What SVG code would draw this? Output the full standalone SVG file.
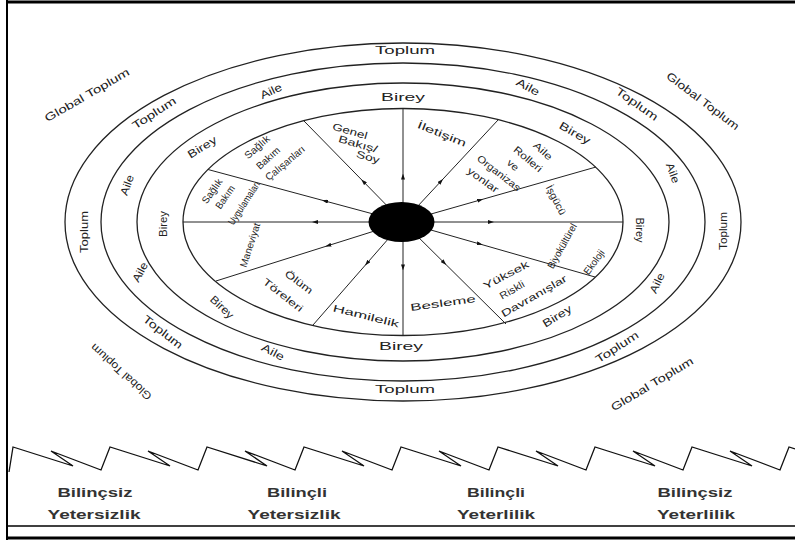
<svg xmlns="http://www.w3.org/2000/svg" width="795" height="540" viewBox="0 0 795 540">
<defs>
<marker id="arr" markerUnits="userSpaceOnUse" markerWidth="6" markerHeight="4" viewBox="0 0 6 4" refX="3" refY="2" orient="auto"><path d="M0,0 L6,2 L0,4 z" fill="#111"/></marker>
<style>
.ring{fill:none;stroke:#222;stroke-width:1.3}
.spoke{fill:none;stroke:#222;stroke-width:1;marker-mid:url(#arr)}
.t{font-family:"Liberation Sans",Arial,sans-serif;font-size:11px;fill:#222;text-anchor:middle}
.s{font-size:10px}
.b{font-weight:bold;font-size:12.5px;fill:#333}
.frame{stroke:#000;fill:none}
</style>
</defs>
<rect width="795" height="540" fill="#fff"/>
<g id="frame">
<line class="frame" x1="6" y1="2" x2="795" y2="2" stroke-width="3"/>
<line class="frame" x1="7" y1="0" x2="7" y2="540" stroke-width="2"/>
<line class="frame" x1="7" y1="526" x2="795" y2="526" stroke-width="1.5" stroke="#555"/>
<line class="frame" x1="6" y1="538" x2="795" y2="538" stroke-width="3"/>
</g>
<g id="rings">
<ellipse class="ring" cx="403" cy="222" rx="338" ry="179"/>
<ellipse class="ring" cx="403" cy="222" rx="302" ry="159"/>
<ellipse class="ring" cx="403" cy="222" rx="266" ry="139"/>
<ellipse class="ring" cx="403" cy="222" rx="220" ry="113.5"/>
</g>
<g id="connectors">
<polyline class="spoke" points="403,222 403,176.6 403,108.5"/>
<polyline class="spoke" points="403,222 441,181.2 498,120"/>
<polyline class="spoke" points="403,222 480.2,200 596,167"/>
<polyline class="spoke" points="403,222 491,222 623,222"/>
<polyline class="spoke" points="403,222 479.8,244 595,277"/>
<polyline class="spoke" points="403,222 444.2,262.8 506,324"/>
<polyline class="spoke" points="403,222 403,267.4 403,335.5"/>
<polyline class="spoke" points="403,222 367,263.2 313,325"/>
<polyline class="spoke" points="403,222 328.2,245.6 216,281"/>
<polyline class="spoke" points="403,222 315,222 183,222"/>
<polyline class="spoke" points="403,222 325,201 208,169.5"/>
<polyline class="spoke" points="403,222 363.4,181.6 304,121"/>
</g>
<g id="center"><ellipse cx="401.5" cy="222" rx="33" ry="20" fill="#000"/></g>
<g id="global-toplum" class="t">
<text transform="translate(87,95) rotate(-30)" dy="0.35em" textLength="96" lengthAdjust="spacingAndGlyphs">Global Toplum</text>
<text transform="translate(703,101) rotate(37)" dy="0.35em" textLength="88" lengthAdjust="spacingAndGlyphs">Global Toplum</text>
<text transform="translate(121,372) rotate(-138)" dy="0.35em" textLength="78" lengthAdjust="spacingAndGlyphs">Global Toplum</text>
<text transform="translate(652,384) rotate(-31)" dy="0.35em" textLength="94" lengthAdjust="spacingAndGlyphs">Global Toplum</text>
</g>
<g id="ring-toplum" class="t">
<text transform="translate(405,50)" dy="0.35em" textLength="60" lengthAdjust="spacingAndGlyphs">Toplum</text>
<text transform="translate(405,389)" dy="0.35em" textLength="60" lengthAdjust="spacingAndGlyphs">Toplum</text>
<text transform="translate(84,232) rotate(-90)" dy="0.35em" textLength="42" lengthAdjust="spacingAndGlyphs">Toplum</text>
<text transform="translate(723,231) rotate(-90)" dy="0.35em" textLength="38" lengthAdjust="spacingAndGlyphs">Toplum</text>
<text transform="translate(154,113) rotate(-33)" dy="0.35em" textLength="50" lengthAdjust="spacingAndGlyphs">Toplum</text>
<text transform="translate(637,104) rotate(35)" dy="0.35em" textLength="49" lengthAdjust="spacingAndGlyphs">Toplum</text>
<text transform="translate(163,332) rotate(38)" dy="0.35em" textLength="47" lengthAdjust="spacingAndGlyphs">Toplum</text>
<text transform="translate(617,347) rotate(-33)" dy="0.35em" textLength="49" lengthAdjust="spacingAndGlyphs">Toplum</text>
</g>
<g id="ring-aile" class="t">
<text transform="translate(271,91) rotate(-25)" dy="0.35em" textLength="23" lengthAdjust="spacingAndGlyphs">Aile</text>
<text transform="translate(528,87) rotate(28)" dy="0.35em" textLength="25" lengthAdjust="spacingAndGlyphs">Aile</text>
<text transform="translate(127,185) rotate(-70)" dy="0.35em" textLength="21" lengthAdjust="spacingAndGlyphs">Aile</text>
<text transform="translate(140,272) rotate(-62)" dy="0.35em" textLength="21" lengthAdjust="spacingAndGlyphs">Aile</text>
<text transform="translate(673,173) rotate(70)" dy="0.35em" textLength="21" lengthAdjust="spacingAndGlyphs">Aile</text>
<text transform="translate(657,283) rotate(-65)" dy="0.35em" textLength="21" lengthAdjust="spacingAndGlyphs">Aile</text>
<text transform="translate(273,352) rotate(28)" dy="0.35em" textLength="24" lengthAdjust="spacingAndGlyphs">Aile</text>
</g>
<g id="ring-birey" class="t">
<text transform="translate(403,97)" dy="0.35em" textLength="44" lengthAdjust="spacingAndGlyphs">Birey</text>
<text transform="translate(401,346)" dy="0.35em" textLength="44" lengthAdjust="spacingAndGlyphs">Birey</text>
<text transform="translate(202,147) rotate(-32)" dy="0.35em" textLength="32" lengthAdjust="spacingAndGlyphs">Birey</text>
<text transform="translate(575,133) rotate(30)" dy="0.35em" textLength="34" lengthAdjust="spacingAndGlyphs">Birey</text>
<text transform="translate(163,224) rotate(-90)" dy="0.35em" textLength="26" lengthAdjust="spacingAndGlyphs">Birey</text>
<text transform="translate(640,230) rotate(90)" dy="0.35em" textLength="25" lengthAdjust="spacingAndGlyphs">Birey</text>
<text transform="translate(222,307) rotate(43)" dy="0.35em" textLength="28" lengthAdjust="spacingAndGlyphs">Birey</text>
<text transform="translate(557,316) rotate(-32)" dy="0.35em" textLength="32" lengthAdjust="spacingAndGlyphs">Birey</text>
</g>
<g id="sec-genel" class="t s">
<text transform="translate(350,131) rotate(16)" dy="0.35em" textLength="36" lengthAdjust="spacingAndGlyphs">Genel</text>
<text transform="translate(358,144) rotate(16)" dy="0.35em" textLength="40" lengthAdjust="spacingAndGlyphs">Bakış/</text>
<text transform="translate(368,157) rotate(16)" dy="0.35em" textLength="24" lengthAdjust="spacingAndGlyphs">Soy</text>
</g>
<g id="sec-iletisim" class="t s">
<text transform="translate(442,134) rotate(22)" dy="0.35em" textLength="52" lengthAdjust="spacingAndGlyphs">İletişim</text>
</g>
<g id="sec-aile-rolleri" class="t s">
<text transform="translate(543,151) rotate(42)" dy="0.35em" textLength="22" lengthAdjust="spacingAndGlyphs">Aile</text>
<text transform="translate(528,159) rotate(40)" dy="0.35em" textLength="34" lengthAdjust="spacingAndGlyphs">Rolleri</text>
<text transform="translate(513,165) rotate(40)" dy="0.35em" textLength="12" lengthAdjust="spacingAndGlyphs">ve</text>
<text transform="translate(499,173) rotate(38)" dy="0.35em" textLength="52" lengthAdjust="spacingAndGlyphs">Organizas</text>
<text transform="translate(483,180) rotate(36)" dy="0.35em" textLength="36" lengthAdjust="spacingAndGlyphs">yonlar</text>
</g>
<g id="sec-isgucu" class="t s">
<text transform="translate(556,200) rotate(63)" dy="0.35em" textLength="32" lengthAdjust="spacingAndGlyphs">İşgücü</text>
</g>
<g id="sec-biyokulturel" class="t s">
<text transform="translate(562,246) rotate(-61)" dy="0.35em" textLength="50" lengthAdjust="spacingAndGlyphs">Biyokültürel</text>
<text transform="translate(594,262) rotate(-54)" dy="0.35em" textLength="28" lengthAdjust="spacingAndGlyphs">Ekoloji</text>
</g>
<g id="sec-yuksek-riskli" class="t s">
<text transform="translate(506,275) rotate(-28)" dy="0.35em" textLength="50" lengthAdjust="spacingAndGlyphs">Yüksek</text>
<text transform="translate(512,290) rotate(-30)" dy="0.35em" textLength="27" lengthAdjust="spacingAndGlyphs">Riskli</text>
<text transform="translate(534,296) rotate(-30)" dy="0.35em" textLength="74" lengthAdjust="spacingAndGlyphs">Davranışlar</text>
</g>
<g id="sec-besleme" class="t s">
<text transform="translate(443,303) rotate(-8)" dy="0.35em" textLength="66" lengthAdjust="spacingAndGlyphs">Besleme</text>
</g>
<g id="sec-hamilelik" class="t s">
<text transform="translate(366,316) rotate(14)" dy="0.35em" textLength="68" lengthAdjust="spacingAndGlyphs">Hamilelik</text>
</g>
<g id="sec-olum" class="t s">
<text transform="translate(299,282) rotate(37)" dy="0.35em" textLength="32" lengthAdjust="spacingAndGlyphs">Ölüm</text>
<text transform="translate(283,295) rotate(38)" dy="0.35em" textLength="48" lengthAdjust="spacingAndGlyphs">Töreleri</text>
</g>
<g id="sec-maneviyat" class="t s">
<text transform="translate(250,245) rotate(-72)" dy="0.35em" textLength="46" lengthAdjust="spacingAndGlyphs">Maneviyat</text>
</g>
<g id="sec-saglik-uygulamalari" class="t s">
<text transform="translate(212,191) rotate(-55)" dy="0.35em" textLength="28" lengthAdjust="spacingAndGlyphs">Sağlık</text>
<text transform="translate(225,197) rotate(-55)" dy="0.35em" textLength="26" lengthAdjust="spacingAndGlyphs">Bakım</text>
<text transform="translate(244,203) rotate(-57)" dy="0.35em" textLength="50" lengthAdjust="spacingAndGlyphs">Uygulamaları</text>
</g>
<g id="sec-saglik-calisanlari" class="t s">
<text transform="translate(257,147) rotate(-41)" dy="0.35em" textLength="30" lengthAdjust="spacingAndGlyphs">Sağlık</text>
<text transform="translate(268,158) rotate(-42)" dy="0.35em" textLength="28" lengthAdjust="spacingAndGlyphs">Bakım</text>
<text transform="translate(285,163) rotate(-40)" dy="0.35em" textLength="48" lengthAdjust="spacingAndGlyphs">Çalışanları</text>
</g>
<g id="zigzag">
<path d="M9,472 L13,447 L73,466 L51,451 L101,470 L110,447 L170,466 L148,451 L198,470 L207,447 L267,466 L245,451 L295,470 L304,447 L364,466 L342,451 L392,470 L401,447 L461,466 L439,451 L489,470 L498,447 L558,466 L536,451 L586,470 L595,447 L655,466 L633,451 L683,470 L692,447 L752,466 L730,451 L780,470 L789,447 L795,449" fill="none" stroke="#111" stroke-width="1.3" stroke-linejoin="miter"/>
</g>
<g id="stages" class="t b">
<text x="95" y="497" textLength="75" lengthAdjust="spacingAndGlyphs">Bilinçsiz</text>
<text x="94" y="519" textLength="93" lengthAdjust="spacingAndGlyphs">Yetersizlik</text>
<text x="297" y="497" textLength="60" lengthAdjust="spacingAndGlyphs">Bilinçli</text>
<text x="294" y="519" textLength="93" lengthAdjust="spacingAndGlyphs">Yetersizlik</text>
<text x="496" y="497" textLength="58" lengthAdjust="spacingAndGlyphs">Bilinçli</text>
<text x="496" y="519" textLength="78" lengthAdjust="spacingAndGlyphs">Yeterlilik</text>
<text x="695" y="497" textLength="75" lengthAdjust="spacingAndGlyphs">Bilinçsiz</text>
<text x="696" y="519" textLength="78" lengthAdjust="spacingAndGlyphs">Yeterlilik</text>
</g>
</svg>
